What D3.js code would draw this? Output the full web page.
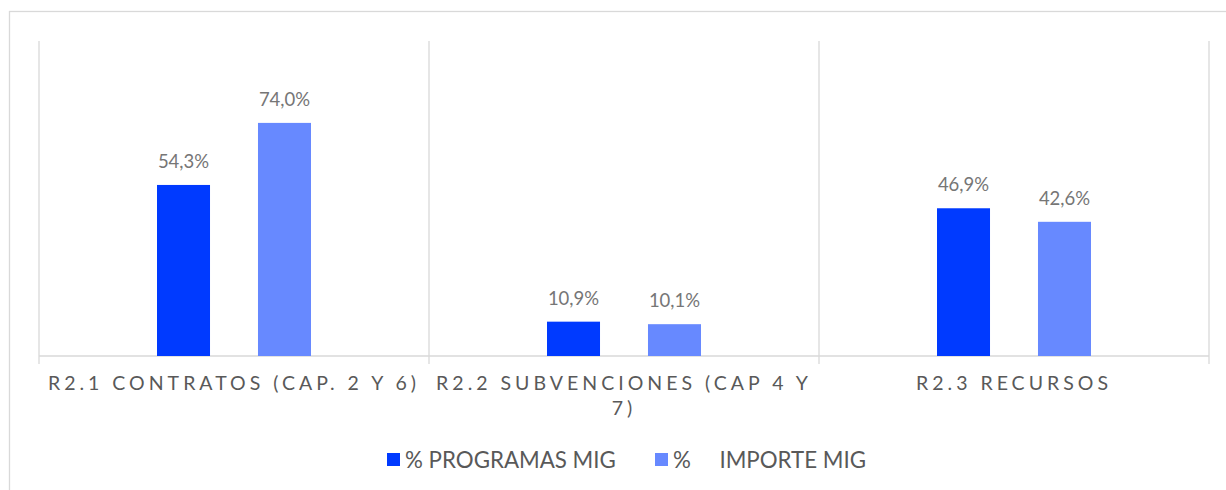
<!DOCTYPE html>
<html><head><meta charset="utf-8">
<script src="https://cdn.jsdelivr.net/npm/d3@7/dist/d3.min.js"></script>
<style>
html,body{margin:0;padding:0;background:#fff;}
svg{display:block;}
</style></head>
<body>
<svg id="chart" width="1226" height="490"></svg>
<script>
const categories = ["R2.1 CONTRATOS (CAP. 2 Y 6)", "R2.2 SUBVENCIONES (CAP 4 Y 7)", "R2.3 RECURSOS"];
const seriesNames = ["% PROGRAMAS MIG", "%     IMPORTE MIG"];
const programas = [54.3, 10.9, 46.9];
const importe = [74.0, 10.1, 42.6];
const valueLabels = [["54,3%","10,9%","46,9%"],["74,0%","10,1%","42,6%"]];
const colors = ["#003AFF", "#6789FF"];

(function(){
const svg = d3.select("#chart");
const FONT = "Lato, 'Open Sans', sans-serif";

svg.append("rect").attr("x", 9.5).attr("y", 11.5).attr("width", 1240).attr("height", 500)
  .attr("fill", "none").attr("stroke", "#d9d9d9").attr("stroke-width", 1.3);

const pLeft = 39, pRight = 1209, pTop = 41, base = 356;
const x = d3.scaleBand().domain(categories).range([pLeft, pRight]).paddingInner(0).paddingOuter(0);
const y = d3.scaleLinear().domain([0, 100]).range([base, pTop]);
const bw = x.bandwidth();
const xs = d3.scaleBand().domain([0, 1]).range([bw * 118 / 390, bw * 272 / 390]).paddingInner(0.475).paddingOuter(0);

const bounds = categories.map(c => x(c)).concat([pRight]);
svg.append("g").selectAll("line").data(bounds).join("line")
  .attr("x1", d => d).attr("x2", d => d).attr("y1", pTop).attr("y2", base + 8)
  .attr("stroke", "#d9d9d9").attr("stroke-width", 1.3);
svg.append("line").attr("x1", pLeft).attr("x2", pRight).attr("y1", base).attr("y2", base)
  .attr("stroke", "#d9d9d9").attr("stroke-width", 1.3);

const data = [];
categories.forEach((c, i) => {
  data.push({c, s: 0, v: programas[i], l: valueLabels[0][i]});
  data.push({c, s: 1, v: importe[i], l: valueLabels[1][i]});
});

const g = svg.append("g");
g.selectAll("rect").data(data).join("rect")
  .attr("x", d => x(d.c) + xs(d.s)).attr("width", xs.bandwidth())
  .attr("y", d => y(d.v)).attr("height", d => base - y(d.v))
  .attr("fill", d => colors[d.s]);

g.selectAll("text").data(data).join("text")
  .attr("x", d => x(d.c) + xs(d.s) + xs.bandwidth() / 2)
  .attr("y", d => y(d.v) - 17)
  .attr("text-anchor", "middle")
  .attr("font-family", FONT).attr("font-size", 18.5).attr("fill", "#767676")
  .text(d => d.l);

const catG = svg.append("g");
const LS = 4;
categories.forEach(c => {
  const cx = x(c) + bw / 2;
  const t = catG.append("text")
    .attr("x", cx).attr("y", 390)
    .attr("text-anchor", "middle")
    .attr("font-family", FONT).attr("font-size", 19.5).attr("fill", "#595959")
    .attr("letter-spacing", LS);
  const words = c.split(" ");
  let line = [];
  let ts = t.append("tspan").attr("x", cx).attr("dy", 0);
  words.forEach(w => {
    line.push(w);
    ts.text(line.join(" "));
    if (ts.node().getComputedTextLength() > bw - 6 && line.length > 1) {
      line.pop();
      ts.text(line.join(" "));
      line = [w];
      ts = t.append("tspan").attr("x", cx).attr("dy", 25).text(w);
    }
  });
});

const legend = svg.append("g");
const legX = [387, 655];
seriesNames.forEach((n, i) => {
  legend.append("rect").attr("x", legX[i]).attr("y", 453).attr("width", 13).attr("height", 13).attr("fill", colors[i]);
  legend.append("text").attr("x", legX[i] + 18).attr("y", 468)
    .attr("font-family", FONT).attr("font-size", 22.3).attr("fill", "#595959")
    .style("white-space", "pre")
    .text(n);
});
})();
</script>
</body></html>
